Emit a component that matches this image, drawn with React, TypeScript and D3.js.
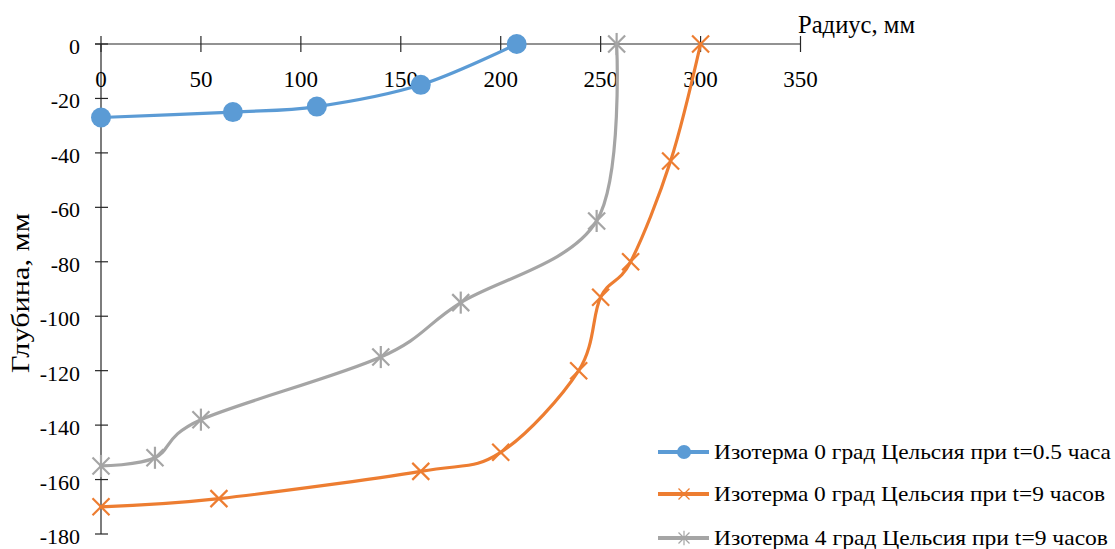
import * as React from "react"
import { scaleLinear, line, curveCatmullRom } from "d3"

// значения (радиус, мм / глубина, мм)
const blueX = [0, 66, 108, 160, 208]
const blueY = [-27, -25, -23, -15, 0]
const orangeX = [0, 59, 160, 200, 239, 250, 265, 285, 300]
const orangeY = [-170, -167, -157, -150, -120, -93, -80, -43, 0]
const grayX = [0, 27, 50, 140, 180, 248, 258]
const grayY = [-155, -152, -138, -115, -95, -65, 0]

const xTicks = [0, 50, 100, 150, 200, 250, 300, 350]
const yTicks = [0, -20, -40, -60, -80, -100, -120, -140, -160, -180]

const seriesNames = [
  "Изотерма 0 град Цельсия при t=0.5 часа",
  "Изотерма 0 град Цельсия при t=9 часов",
  "Изотерма 4 град Цельсия при t=9 часов",
]
const xTitle = "Радиус, мм"
const yTitle = "Глубина, мм"

const serif = { fontFamily: "Liberation Serif" }

const width = 1115
const height = 549
const x = scaleLinear().domain([0, 350]).range([101, 800.5])
const y = scaleLinear().domain([-180, 0]).range([534, 44])

const series = [
  { xs: blueX, ys: blueY, color: "#5B9BD5", marker: "circle" },
  { xs: orangeX, ys: orangeY, color: "#ED7D31", marker: "x" },
  { xs: grayX, ys: grayY, color: "#A5A5A5", marker: "star" },
]

const smooth = line()
  .x((d) => x(d[0]))
  .y((d) => y(d[1]))
  .curve(curveCatmullRom.alpha(0))

function Marker({ kind, color, px, py, s, sw }) {
  if (kind === "circle") return <circle cx={px} cy={py} r={s} fill={color} />
  return (
    <g stroke={color} strokeWidth={sw}>
      <line x1={px - s} y1={py - s} x2={px + s} y2={py + s} />
      <line x1={px - s} y1={py + s} x2={px + s} y2={py - s} />
      {kind === "star" && <line x1={px} y1={py - s * 1.3} x2={px} y2={py + s * 1.3} />}
    </g>
  )
}

function App() {
  const legendY = [452, 494, 538]
  const legendLen = [397, 391, 394]
  return (
    <svg
      width={width}
      height={height}
      style={{ position: "absolute", left: 0, top: 0, background: "#fff" }}
    >
      {/* axes */}
      <g stroke="#262626" strokeWidth={1.2}>
        <line x1={x(0) - 6} x2={x(350)} y1={y(0)} y2={y(0)} />
        <line x1={x(0)} x2={x(0)} y1={y(0)} y2={y(-180)} />
        {xTicks.map((d) => (
          <line key={d} x1={x(d)} x2={x(d)} y1={y(0) - 8} y2={y(0) + 8} />
        ))}
        {yTicks.map((d) => (
          <line key={d} x1={x(0) - 6} x2={x(0) + 7} y1={y(d)} y2={y(d)} />
        ))}
      </g>
      {xTicks.map((d) => (
        <text key={d} x={x(d)} y={87} textAnchor="middle" fontSize={23} fill="#000" style={serif}>
          {d}
        </text>
      ))}
      {yTicks.map((d) => (
        <text key={d} x={80} y={y(d) + 10} textAnchor="end" fontSize={22} fill="#000" style={serif}>
          {d}
        </text>
      ))}
      <text x={798} y={33} fontSize={25} fill="#000" style={serif} textLength={117} lengthAdjust="spacingAndGlyphs">
        {xTitle}
      </text>
      <text
        transform="translate(29, 293) rotate(-90)"
        textAnchor="middle"
        fontSize={25}
        fill="#000"
        style={serif}
        textLength={160}
        lengthAdjust="spacingAndGlyphs"
      >
        {yTitle}
      </text>

      {/* series */}
      {series.map((s, si) => {
        const pts = s.xs.map((v, i) => [v, s.ys[i]])
        return (
          <g key={si}>
            <path
              d={smooth(pts)}
              fill="none"
              stroke={s.color}
              strokeWidth={3.2}
              strokeLinejoin="round"
              strokeLinecap="round"
            />
            {pts.map((d, i) => (
              <Marker
                key={i}
                kind={s.marker}
                color={s.color}
                px={x(d[0])}
                py={y(d[1])}
                s={s.marker === "circle" ? 10 : 8.5}
                sw={2.2}
              />
            ))}
          </g>
        )
      })}

      {/* legend */}
      {series.map((s, i) => (
        <g key={i}>
          <line x1={658} x2={709} y1={legendY[i]} y2={legendY[i]} stroke={s.color} strokeWidth={4} />
          <Marker kind={s.marker} color={s.color} px={684} py={legendY[i]} s={s.marker === "circle" ? 7 : 5.5} sw={1.2} />
          <text
            x={714}
            y={legendY[i] + 7}
            fontSize={21}
            fill="#000"
            style={serif}
            textLength={legendLen[i]}
            lengthAdjust="spacingAndGlyphs"
          >
            {seriesNames[i]}
          </text>
        </g>
      ))}
    </svg>
  )
}

export default App
